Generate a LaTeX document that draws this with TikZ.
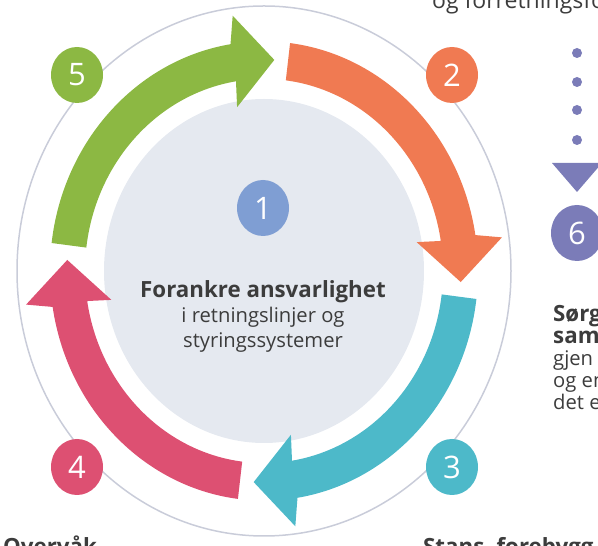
\documentclass[tikz,border=0pt]{standalone}
\usepackage{fontspec}
\setmainfont{Open Sans}
\usetikzlibrary{shapes.geometric}
\definecolor{cgreen}{HTML}{8CB843}
\definecolor{corange}{HTML}{F07A52}
\definecolor{cteal}{HTML}{4DB9C9}
\definecolor{cred}{HTML}{DD5072}
\definecolor{cblue}{HTML}{7F9ED3}
\definecolor{cpurple}{HTML}{7B7CB8}
\definecolor{cgray}{HTML}{E5E9F0}
\definecolor{cline}{HTML}{C9CCD9}
\definecolor{ctext}{HTML}{3C3C3C}
\newcommand{\headtxt}[1]{{\fontsize{22.3}{22}\selectfont\bfseries #1}}
\tikzset{
  numnode/.style = {ellipse, inner sep=0pt, minimum width=52pt,
    minimum height=56pt, text=white, font=\fontsize{31}{31}\selectfont},
  num_g/.style = {numnode, fill=cgreen},% nummer, grønn
  num_o/.style = {numnode, fill=corange},% nummer, oransje
  num_t/.style = {numnode, fill=cteal},% nummer, turkis
  num_r/.style = {numnode, fill=cred},% nummer, rød
  num_b/.style = {numnode, fill=cblue},% nummer, blå
  num_p/.style = {numnode, fill=cpurple},% nummer, lilla
  body_txt/.style = {inner sep=0pt, text=ctext,
    font=\fontsize{20.2}{22}\selectfont},
  dot_p/.style = {circle, fill=cpurple, inner sep=0pt, minimum size=10pt}
}

\begin{document}
\begin{tikzpicture}[x=1pt,y=1pt]

	\path[use as bounding box] (0,0) rectangle (598,546);
	\clip (0,0) rectangle (598,546);

	% ring og midtfelt
	\draw[cline, line width=1.5pt] (264,275) ellipse [x radius=247, y radius=265];
	\fill[cgray] (264,275) ellipse [x radius=160, y radius=172];

	% fire buede piler
	\begin{scope}[shift={(264,275)}, yscale=1.073]
		\foreach \col [count=\i from 0] in {cgreen,corange,cteal,cred}{
			\pgfmathsetmacro{\as}{173-90*\i}
			\pgfmathsetmacro{\at}{87-90*\i}
			\pgfmathsetmacro{\ab}{\at+12}
			\pgfmathsetmacro{\hi}{\at+13}
			\pgfmathsetmacro{\ho}{\at+10.5}
			\fill[\col] (\as:179) arc[start angle=\as, end angle=\ab, radius=179]
				-- (\hi:155) -- (\at:197) -- (\ho:240) -- (\ab:214)
				arc[start angle=\ab, end angle=\as, radius=214] -- cycle;
		}
	\end{scope}

	% nummer
	\node[num_g] (n5) at (77,471) {5};
	\node[num_o] (n2) at (452,471) {2};
	\node[num_t] (n3) at (452,79) {3};
	\node[num_r] (n4) at (77,79) {4};
	\node[num_b] (n1) at (263,338) {1};
	\node[num_p] (n6) at (577,313) {6};

	% prikker og trekant over 6
	\foreach \y [count=\k] in {493,464,436,406}
		\node[dot_p] (d\k) at (577,\y) {};
	\fill[cpurple] (552,383) -- (602,383) -- (577,354) -- cycle;

	% tekster
	\node[body_txt, align=center, font=\fontsize{20.2}{25}\selectfont,
		anchor=north] (focus) at (263,266)
		{\headtxt{Forankre ansvarlighet}\\ i retningslinjer og\\ styringssystemer};
	\node[body_txt, align=left, anchor=north west] (side) at (553,241)
		{\headtxt{Sørg}\\ \headtxt{sam}\\ gjen\\ og en\\ det e};
	\node[body_txt, font=\fontsize{23}{23}\selectfont, anchor=base west]
		(top) at (432,537) {og forretningsfo};
	\node[body_txt, anchor=base west] (low_l) at (3,-9) {\headtxt{Overvåk}};
	\node[body_txt, anchor=base west] (low_r) at (423,-9) {\headtxt{Stans, forebygg}};

\end{tikzpicture}
\end{document}
